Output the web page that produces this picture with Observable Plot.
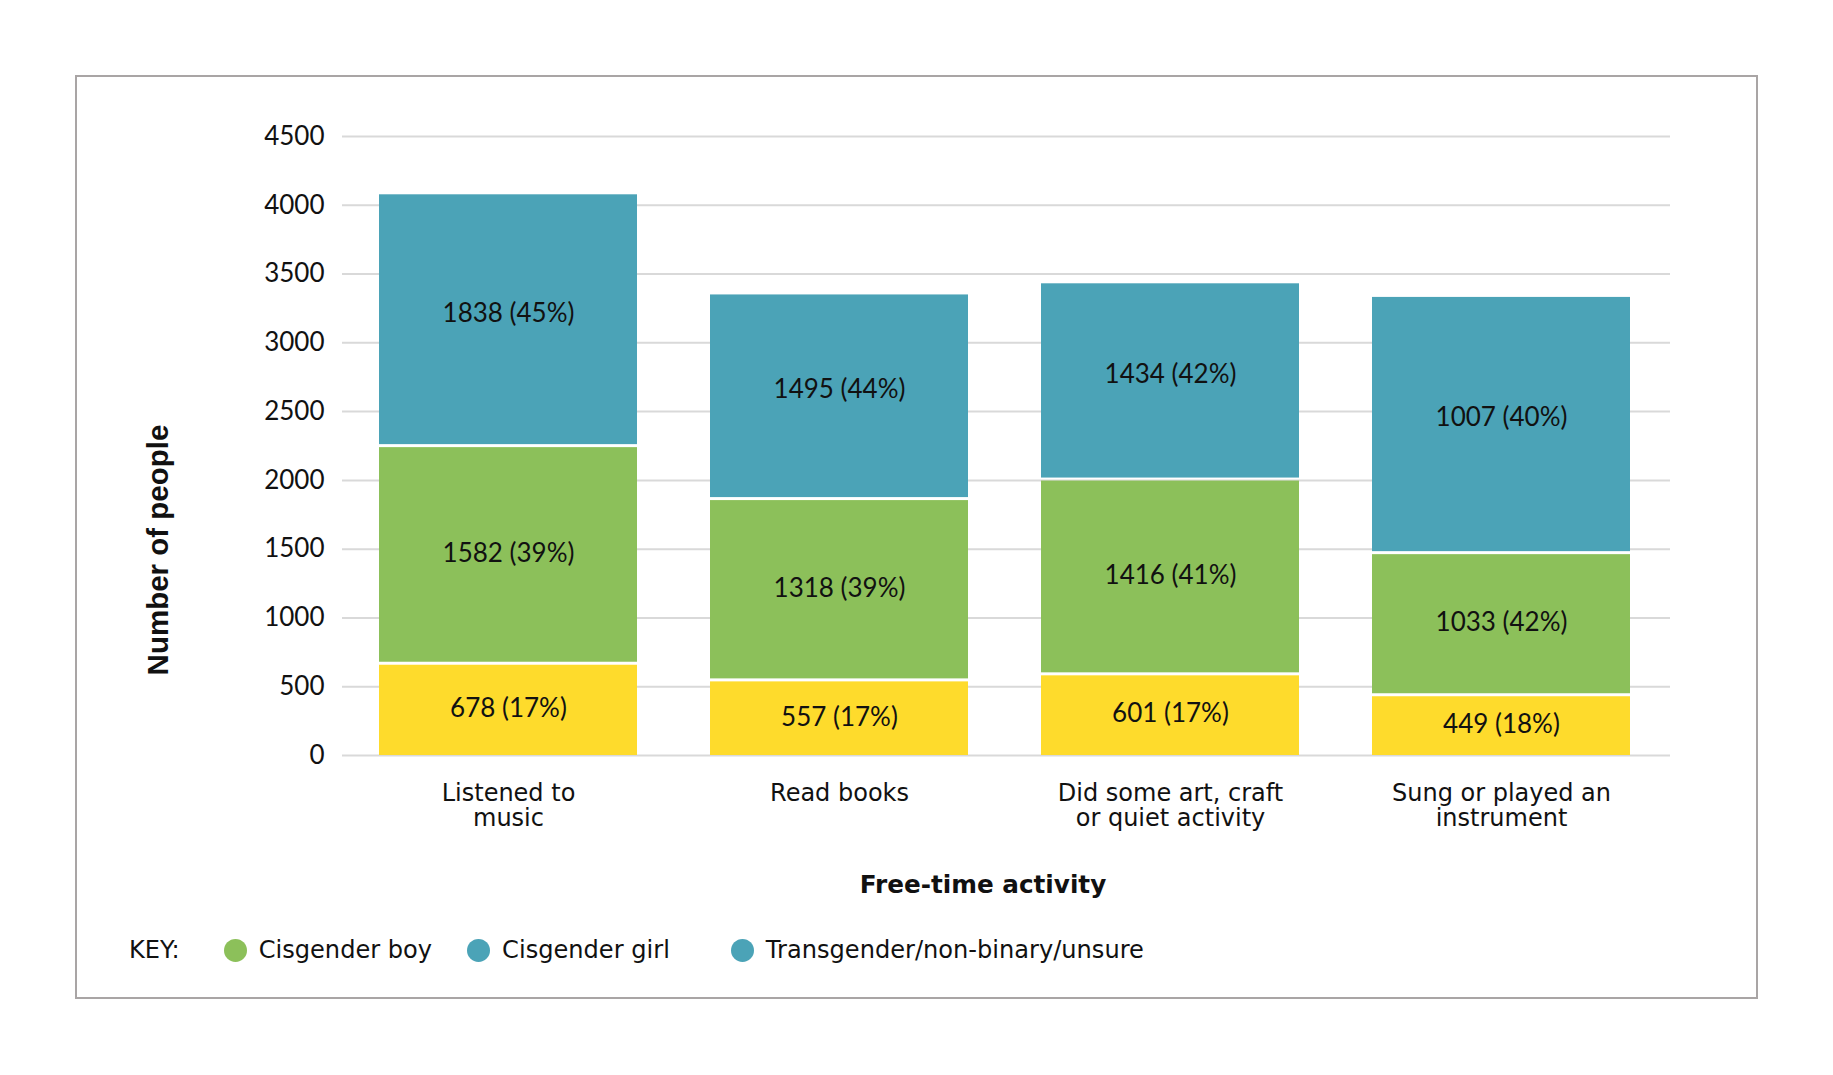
<!DOCTYPE html>
<html>
<head>
<meta charset="utf-8">
<script src="https://cdn.jsdelivr.net/npm/d3@7"></script>
<script src="https://cdn.jsdelivr.net/npm/@observablehq/plot@0.6"></script>
<style>
  html, body { margin: 0; padding: 0; background: #fff; }
  #page { position: relative; width: 1833px; height: 1075px; overflow: hidden; background: #fff; }
  #frame { position: absolute; left: 75px; top: 75px; width: 1683px; height: 924px; box-sizing: border-box; border: 2px solid #a9a5a5; }
  #chart { position: absolute; left: 0; top: 0; }
  #ytitle { position: absolute; left: 158px; top: 550px; transform: translate(-50%, -50%) rotate(-90deg);
            font: bold 29.5px "Liberation Sans", Arial, sans-serif; white-space: nowrap; line-height: 1; color: #111; }
  #xtitle { position: absolute; left: 983px; top: 885px; transform: translate(-50%, -50%);
            font: bold 24.7px "DejaVu Sans", sans-serif; white-space: nowrap; line-height: 1; color: #111; }
  #legend { position: absolute; left: 129px; top: 950px; transform: translateY(-50%); display: flex; align-items: center;
            font: 24.1px "DejaVu Sans", sans-serif; line-height: 1; white-space: nowrap; color: #111; }
  .sw { display: inline-block; width: 23px; height: 23px; border-radius: 50%; }
</style>
</head>
<body>
<div id="page">
  <div id="frame"></div>
  <div id="chart"></div>
  <div id="ytitle">Number of people</div>
  <div id="xtitle">Free-time activity</div>
  <div id="legend"></div>
</div>
<script>
// ---- data ----
const categories = ["Listened to\nmusic", "Read books", "Did some art, craft\nor quiet activity", "Sung or played an\ninstrument"];
const segments = ["bottom", "middle", "top"];
const segmentColors = ["#fedb2c", "#8cc05a", "#4ba3b7"];

// drawn segment heights (the last top bar is drawn taller than its label says)
const bottomValues = [678, 557, 601, 449];
const middleValues = [1582, 1318, 1416, 1033];
const topValues = [1838, 1495, 1434, 1870];

// printed labels
const bottomLabels = ["678 (17%)", "557 (17%)", "601 (17%)", "449 (18%)"];
const middleLabels = ["1582 (39%)", "1318 (39%)", "1416 (41%)", "1033 (42%)"];
const topLabels = ["1838 (45%)", "1495 (44%)", "1434 (42%)", "1007 (40%)"];

const yTicks = [0, 500, 1000, 1500, 2000, 2500, 3000, 3500, 4000, 4500];

const legendTitle = "KEY:";
const legendLabels = ["Cisgender boy", "Cisgender girl", "Transgender/non-binary/unsure"];
const legendColors = ["#8cc05a", "#4ba3b7", "#4ba3b7"];

// ---- build table ----
const rows = [];
categories.forEach((c, i) => {
  rows.push({cat: c, seg: "bottom", value: bottomValues[i], label: bottomLabels[i]});
  rows.push({cat: c, seg: "middle", value: middleValues[i], label: middleLabels[i]});
  rows.push({cat: c, seg: "top", value: topValues[i], label: topLabels[i]});
});

const labelStack = (keep) => Plot.stackY({
  x: "cat", y: "value", z: "seg", order: segments,
  text: d => keep(d.seg) ? d.label : null,
  fontSize: 26, fontFamily: "Lato, sans-serif", fill: "#111"
});

const chart = Plot.plot({
  width: 1833,
  height: 910,
  marginLeft: 342,
  marginRight: 163,
  marginTop: 136,
  marginBottom: 155,
  style: {background: "transparent", overflow: "visible", fontFamily: "Lato, sans-serif", fontSize: "25px", color: "#111"},
  x: {domain: categories, paddingInner: 0.2215, paddingOuter: 0.115, align: 0.474, label: null, axis: null},
  y: {domain: [0, 4500], label: null, axis: null},
  color: {domain: segments, range: segmentColors},
  marks: [
    Plot.gridY({ticks: yTicks, stroke: "#d9d9d9", strokeOpacity: 1, strokeWidth: 2}),
    Plot.barY(rows, {x: "cat", y: "value", fill: "seg", z: "seg", order: segments, insetTop: 3}),
    Plot.text(rows, labelStack(s => s !== "top")),
    Plot.text(rows, {...labelStack(s => s === "top"), dy: -5}),
    Plot.axisY({ticks: yTicks, tickFormat: d => String(d), tickSize: 0, tickPadding: 18, fontSize: 26, fontFamily: "Lato, sans-serif", label: null, fill: "#111"}),
    Plot.axisX({tickSize: 0, tickPadding: 28, fontSize: 24, fontFamily: "DejaVu Sans, sans-serif", lineHeight: 1.025, label: null, fill: "#111"})
  ]
});
document.getElementById("chart").appendChild(chart);

// ---- legend ----
const legend = document.getElementById("legend");
const key = document.createElement("span");
key.textContent = legendTitle;
legend.appendChild(key);
const swatchGaps = [44, 35, 61];
legendLabels.forEach((lab, i) => {
  const sw = document.createElement("span");
  sw.className = "sw";
  sw.style.background = legendColors[i];
  sw.style.marginLeft = swatchGaps[i] + "px";
  legend.appendChild(sw);
  const t = document.createElement("span");
  t.textContent = lab;
  t.style.marginLeft = "12px";
  legend.appendChild(t);
});
</script>
</body>
</html>
